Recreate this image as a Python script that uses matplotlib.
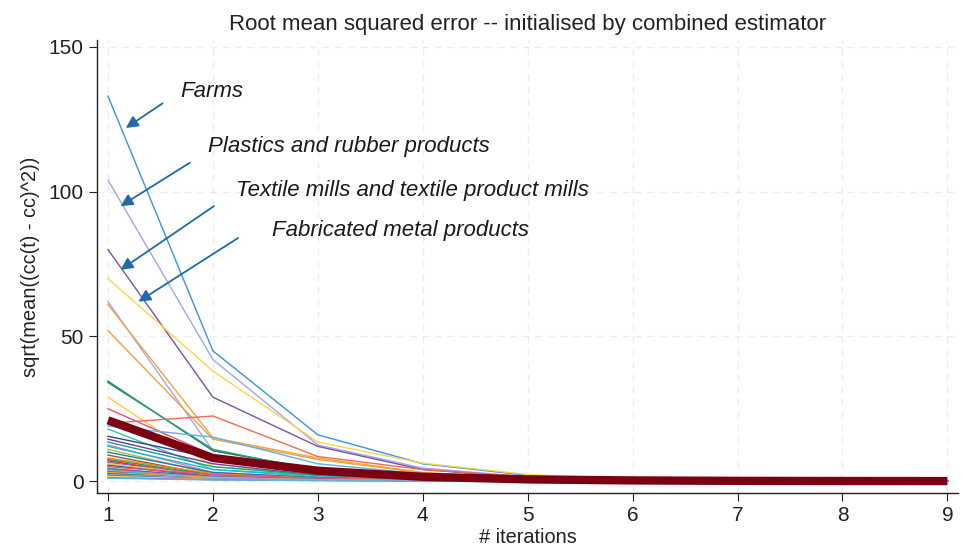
import matplotlib
matplotlib.use("Agg")
import matplotlib.pyplot as plt

plt.rcParams['font.family'] = ['Liberation Sans', 'DejaVu Sans']

# iterations on the x axis
iterations = [1, 2, 3, 4, 5, 6, 7, 8, 9]

# RMSE per industry, one list per series (values at iteration 1..9)
rmse = [
    [133.0, 45.0, 16.0, 6.0, 2.0, 0.6, 0.2, 0.1, 0.05],   # Farms
    [104.0, 42.0, 12.5, 4.5, 1.5, 0.5, 0.2, 0.1, 0.05],   # Plastics and rubber
    [80.0, 29.0, 12.0, 4.0, 1.2, 0.4, 0.1, 0.05, 0.02],   # Textile mills
    [70.0, 38.0, 13.5, 6.2, 2.3, 0.7, 0.2, 0.1, 0.05],    # Fabricated metal
    [62.0, 10.5, 4.0, 1.5, 0.5, 0.2, 0.1, 0.05, 0.02],
    [61.0, 15.0, 8.0, 3.0, 1.0, 0.3, 0.1, 0.05, 0.02],
    [52.0, 14.5, 7.5, 2.8, 0.9, 0.3, 0.1, 0.05, 0.02],
    [34.5, 10.5, 4.0, 1.5, 0.5, 0.2, 0.1, 0.05, 0.02],
    [34.0, 11.0, 3.5, 1.2, 0.4, 0.1, 0.05, 0.02, 0.01],
    [29.0, 5.0, 2.5, 1.0, 0.3, 0.1, 0.05, 0.02, 0.01],
    [25.0, 9.0, 4.0, 1.5, 0.5, 0.2, 0.1, 0.05, 0.02],
    [20.0, 22.5, 8.5, 4.0, 1.5, 0.5, 0.2, 0.1, 0.05],
    [19.0, 15.2, 6.0, 2.5, 0.8, 0.3, 0.1, 0.05, 0.02],
    [18.0, 4.0, 2.0, 0.8, 0.3, 0.1, 0.05, 0.02, 0.01],
    [15.5, 8.0, 3.0, 1.0, 0.4, 0.1, 0.05, 0.02, 0.01],
    [14.5, 6.0, 2.0, 0.8, 0.3, 0.1, 0.05, 0.02, 0.01],
    [13.5, 5.0, 2.0, 0.7, 0.2, 0.1, 0.05, 0.02, 0.01],
    [12.5, 3.0, 1.2, 0.5, 0.2, 0.1, 0.05, 0.02, 0.01],
    [12.0, 4.0, 1.5, 0.6, 0.2, 0.1, 0.05, 0.02, 0.01],
    [11.0, 2.5, 1.0, 0.4, 0.1, 0.05, 0.02, 0.01, 0.01],
    [10.0, 3.0, 1.2, 0.5, 0.2, 0.1, 0.05, 0.02, 0.01],
    [9.0, 2.0, 0.8, 0.3, 0.1, 0.05, 0.02, 0.01, 0.01],
    [8.0, 2.5, 1.0, 0.4, 0.1, 0.05, 0.02, 0.01, 0.01],
    [7.5, 2.0, 0.8, 0.3, 0.1, 0.05, 0.02, 0.01, 0.01],
    [7.0, 1.5, 0.6, 0.2, 0.1, 0.05, 0.02, 0.01, 0.01],
    [6.5, 2.0, 0.8, 0.3, 0.1, 0.05, 0.02, 0.01, 0.01],
    [6.0, 1.8, 0.7, 0.3, 0.1, 0.05, 0.02, 0.01, 0.01],
    [5.5, 1.5, 0.6, 0.2, 0.1, 0.05, 0.02, 0.01, 0.01],
    [5.0, 2.2, 0.9, 0.3, 0.1, 0.05, 0.02, 0.01, 0.01],
    [4.5, 1.2, 0.5, 0.2, 0.1, 0.05, 0.02, 0.01, 0.01],
    [4.2, 1.6, 0.6, 0.2, 0.1, 0.05, 0.02, 0.01, 0.01],
    [4.0, 1.0, 0.4, 0.2, 0.1, 0.05, 0.02, 0.01, 0.01],
    [3.6, 1.4, 0.5, 0.2, 0.1, 0.05, 0.02, 0.01, 0.01],
    [3.2, 0.9, 0.4, 0.2, 0.1, 0.05, 0.02, 0.01, 0.01],
    [3.0, 1.2, 0.5, 0.2, 0.1, 0.05, 0.02, 0.01, 0.01],
    [2.6, 0.8, 0.3, 0.1, 0.05, 0.02, 0.01, 0.01, 0.01],
    [2.2, 1.0, 0.4, 0.2, 0.1, 0.05, 0.02, 0.01, 0.01],
    [2.0, 0.7, 0.3, 0.1, 0.05, 0.02, 0.01, 0.01, 0.01],
    [1.6, 0.6, 0.3, 0.1, 0.05, 0.02, 0.01, 0.01, 0.01],
    [1.2, 0.5, 0.2, 0.1, 0.05, 0.02, 0.01, 0.01, 0.01],
    [1.0, 0.4, 0.2, 0.1, 0.05, 0.02, 0.01, 0.01, 0.01],
]

line_colors = [
    '#3d8fe8', '#a3a3f2', '#7a52a3', '#f8d64a', '#9da8f0', '#f2a53a',
    '#f0a040', '#1f7a66', '#2aa070', '#f7d23c', '#e8507e', '#f26b50',
    '#5ab4e8', '#3cc4a2', '#2a4a8f', '#6a3d9a', '#1f9e89', '#e377c2',
    '#17becf', '#bcbd22', '#1f77b4', '#8c564b', '#ff7f0e', '#2ca02c',
    '#d62728', '#9467bd', '#f5c242', '#1a6aaa', '#e8507e', '#3cc4a2',
    '#7a52a3', '#f26b50', '#5ab4e8', '#2a4a8f', '#f2a53a', '#1f7a66',
    '#a3a3f2', '#3d8fe8', '#f8d64a', '#e8507e', '#5ab4e8',
]

# average over industries (thick line)
rmse_mean = [21.0, 8.0, 3.6, 1.5, 0.6, 0.25, 0.1, 0.05, 0.03]

labels = [
    "Farms",
    "Plastics and rubber products",
    "Textile mills and textile product mills",
    "Fabricated metal products",
]
label_xy = [(1.69, 134.5), (1.95, 115.5), (2.22, 100.5), (2.56, 86.5)]
arrow_tail = [(1.52, 130.5), (1.78, 110.0), (2.01, 95.0), (2.24, 84.0)]
arrow_tip = [(1.17, 122.0), (1.12, 95.0), (1.12, 73.0), (1.29, 62.0)]

fig = plt.figure(figsize=(9.63, 5.55), dpi=100)
ax = fig.add_axes([0.1007, 0.1117, 0.894, 0.8163])

for vals, col in zip(rmse, line_colors):
    ax.plot(iterations, vals, color=col, lw=1.0, solid_joinstyle='miter')
ax.plot(iterations, rmse_mean, color='#7a0012', lw=6.0, solid_capstyle='butt')

arrow_color = '#1f6aa8'
for lab, txy, tail, tip in zip(labels, label_xy, arrow_tail, arrow_tip):
    ax.text(txy[0], txy[1], lab, fontsize=16, style='italic', ha='left', va='center',
            color='#1a1a1a')
    ax.annotate('', xy=tip, xytext=tail,
                arrowprops=dict(arrowstyle='-|>', color=arrow_color, lw=1.3,
                                mutation_scale=18, shrinkA=0, shrinkB=0))

ax.set_xlim(0.895, 9.1)
ax.set_ylim(-4.1, 152.4)
ax.set_xticks(iterations)
ax.set_yticks([0, 50, 100, 150])
ax.grid(True, color='#ededed', linestyle=(0, (5, 4)), lw=1.0)
ax.set_axisbelow(True)
for s in ['top', 'right']:
    ax.spines[s].set_visible(False)
for s in ['left', 'bottom']:
    ax.spines[s].set_color('#222222')
    ax.spines[s].set_linewidth(1.0)
ax.tick_params(labelsize=15, length=6, color='#222222', labelcolor='#222222')

ax.set_title("Root mean squared error -- initialised by combined estimator",
             fontsize=16, color='#222222', pad=7)
ax.set_xlabel("# iterations", fontsize=14.3, color='#222222', labelpad=2)
ax.set_ylabel("sqrt(mean((cc(t) - cc)^2))", fontsize=14.4, color='#222222', labelpad=6)

fig.savefig("out.png", dpi=100, facecolor='white')
